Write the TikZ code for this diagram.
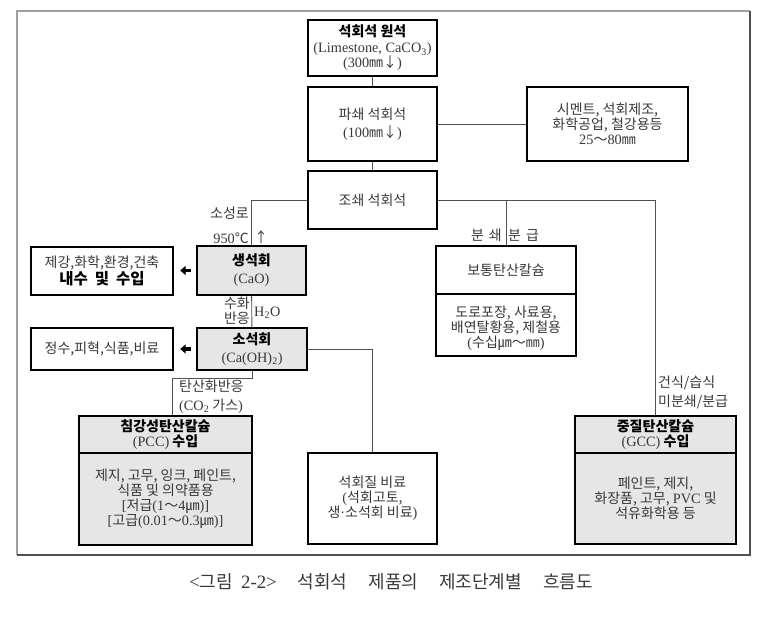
\documentclass[tikz,border=0pt]{standalone}
\usepackage{fontspec}
\setmainfont{Noto Sans CJK KR}
\newfontfamily\ltn{Liberation Serif}[Scale=1.02]
\usetikzlibrary{arrows.meta}
\definecolor{txt}{HTML}{383838}
\definecolor{fillg}{HTML}{E6E6E6}
\definecolor{linec}{HTML}{505050}
\tikzset{
  box/.style={draw=black, line width=1.6pt, inner sep=0pt, align=center, text=txt,
    font=\fontsize{14}{15}\selectfont},
  gbox/.style={box, fill=fillg},
  conn/.style={draw=linec, line width=0.9pt},
  lbl/.style={inner sep=0pt, text=txt, font=\fontsize{14}{15}\selectfont},
  txtonly/.style={inner sep=0pt, align=center, text=txt, font=\fontsize{14}{15}\selectfont},
  fatarrow/.style={line width=3.4pt, -{Triangle[length=5.5pt,width=9pt]}},
}
\newcommand{\hd}[1]{{\bfseries\color{black}#1}}
\begin{document}
\begin{tikzpicture}[x=1pt,y=-1pt]
\useasboundingbox (0,0) rectangle (773,616);
% outer frame
\draw[gray!75, line width=1.1pt] (17,555) -- (17,11) -- (750,11);
\draw[linec, line width=1.8pt] (750,11) -- (750,555) -- (17,555);

% main column
\node[box, minimum width=129pt, minimum height=56pt] (raw) at (372.5,48)
  {\hd{석회석 원석}\\[1pt]{\ltn (Limestone, CaCO\textsubscript{3})}\\{\ltn (300}㎜↓{\ltn )}};
\node[box, minimum width=129pt, minimum height=74pt] (crush1) at (372.5,124)
  {파쇄 석회석\\[3pt]{\ltn (100}㎜↓{\ltn )}};
\node[box, minimum width=161pt, minimum height=74pt] (cement) at (607.5,124)
  {시멘트, 석회제조,\\화학공업, 철강용등\\{\ltn 25}～{\ltn 80}㎜};
\node[box, minimum width=129pt, minimum height=58pt] (crush2) at (372.5,200)
  {조쇄 석회석};

% ordinary calcium carbonate
\node[box, minimum width=140pt, minimum height=48pt] (normtop) at (506,270) {보통탄산칼슘};
\node[box, minimum width=140pt, minimum height=62pt] (normbot) at (506,325) {};
\node[txtonly] (normtxt) at (506,328)
  {도로포장, 사료용,\\배연탈황용, 제철용\\{\ltn (}수십㎛～㎜{\ltn )}};

% lime
\node[gbox, minimum width=109pt, minimum height=49pt] (quick) at (251.5,270.5)
  {\hd{생석회}\\[3pt]{\ltn (CaO)}};
\node[box, minimum width=142pt, minimum height=48pt] (use1) at (102,271)
  {제강,화학,환경,건축\\[0pt]{\fontsize{15.5}{15.5}\selectfont\hd{내수\hspace{7pt}및\hspace{7pt}수입}}};
\node[gbox, minimum width=110pt, minimum height=42pt] (slaked) at (252,349)
  {\hd{소석회}\\[3pt]{\ltn (Ca(OH)\textsubscript{2})}};
\node[box, minimum width=142pt, minimum height=42pt] (use2) at (102,349)
  {정수,피혁,식품,비료};

% PCC
\node[gbox, minimum width=173pt, minimum height=37pt] (pcctop) at (165.5,434.5)
  {\hd{침강성탄산칼슘}\\{\ltn (PCC)} \hd{수입}};
\node[gbox, minimum width=173pt, minimum height=92pt] (pccbot) at (165.5,499)
  {제지, 고무, 잉크, 페인트,\\식품 및 의약품용\\{\ltn [}저급{\ltn (1}～{\ltn 4}㎛{\ltn )]}\\{\ltn [}고급{\ltn (0.01}～{\ltn 0.3}㎛{\ltn )]}};

% fertilizer
\node[box, minimum width=129pt, minimum height=91pt] (fert) at (372.5,498.5)
  {석회질 비료\\{\ltn (}석회고토,\\생{\ltn ·}소석회 비료{\ltn )}};

% GCC
\node[gbox, minimum width=161pt, minimum height=37pt] (gcctop) at (655.5,434.5)
  {\hd{중질탄산칼슘}\\{\ltn (GCC)} \hd{수입}};
\node[gbox, minimum width=161pt, minimum height=91pt] (gccbot) at (655.5,498.5)
  {페인트, 제지,\\화장품, 고무, {\ltn PVC} 및\\석유화학용 등};

% connectors
\draw[conn] (raw) -- (crush1);
\draw[conn] (crush1) -- (cement);
\draw[conn] (crush1) -- (crush2);
\draw[conn] (crush2.west) -| (quick.north);
\draw[conn] (crush2.east) -| (gcctop.north);
\draw[conn] (normtop.north) -- (normtop.north |- crush2.east);
\draw[conn] (quick) -- (slaked);
\draw[conn] (slaked.east) -| (fert.north);
\draw[conn] (slaked.south) -- ++(0,8) -| ([xshift=7pt]pcctop.north);

% fat arrows
\draw[fatarrow] ([xshift=-5pt]quick.west) -- ([xshift=-16pt]quick.west);
\draw[fatarrow] ([xshift=-5pt]slaked.west) -- ([xshift=-16pt]slaked.west);

% labels
\node[lbl, anchor=east] (kiln) at (249,213) {소성로};
\node[lbl, anchor=east] (temp) at (249,238) {{\ltn 950}℃};
\node[lbl] (up) at (261,237) {↑};
\node[lbl, anchor=east, align=center] (hyd) at (250,311) {수화\\반응};
\node[lbl, anchor=west] (h2o) at (254,313) {\ltn H\textsubscript{2}O};
\node[lbl, anchor=west, align=left] (carb) at (179,397) {탄산화반응\\[4pt]{\ltn (CO\textsubscript{2}} 가스{\ltn )}};
\node[lbl, anchor=east] (split1) at (502,235) {분\hspace{5pt}쇄};
\node[lbl, anchor=west] (split2) at (508,235) {분\hspace{5pt}급};
\node[lbl, anchor=west, align=left] (dry) at (658,392) {건식/습식\\[4pt]미분쇄/분급};

% caption
\node[inner sep=0pt, text=txt, font=\fontsize{18}{20}\selectfont] (cap) at (391,582)
  {{\ltn\fontsize{18.5}{20}\selectfont <}그림\hspace{8pt}{\ltn\fontsize{18.5}{20}\selectfont 2-2>}\hspace{21pt}석회석\hspace{21pt}제품의\hspace{21pt}제조단계별\hspace{21pt}흐름도};
\end{tikzpicture}
\end{document}
